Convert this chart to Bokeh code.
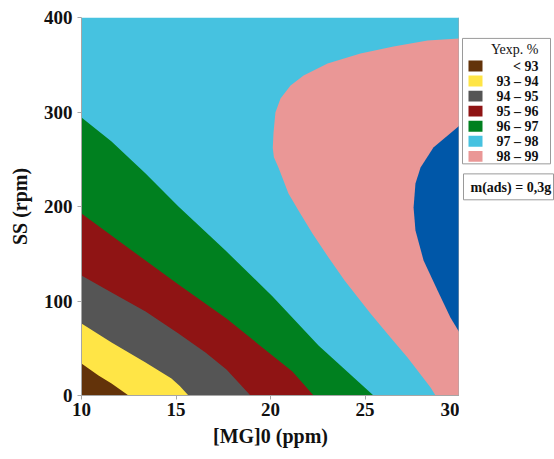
from bokeh.plotting import figure
from bokeh.layouts import row
from bokeh.models import Range1d, FixedTicker, Span
from bokeh.core.properties import value
from bokeh.embed import file_html
from bokeh.resources import INLINE

# axis limits and ticks
x_min, x_max = 10, 30
y_min, y_max = 0, 400
x_ticks = [10, 15, 20, 25, 30]
y_ticks = [0, 100, 200, 300, 400]

# class colours and legend labels (Yexp. %)
c_lt93 = "#63330A"
c_93_94 = "#FFE546"
c_94_95 = "#555555"
c_95_96 = "#8F1414"
c_96_97 = "#00801F"
c_97_98 = "#46C2E0"
c_98_99 = "#EA9796"
c_gt99 = "#0057A8"
legend_title = "Yexp. %"
legend_labels = ["< 93", "93 \u2013 94", "94 \u2013 95", "95 \u2013 96",
                 "96 \u2013 97", "97 \u2013 98", "98 \u2013 99"]
legend_colors = [c_lt93, c_93_94, c_94_95, c_95_96, c_96_97, c_97_98, c_98_99]
note_text = "m(ads) = 0,3g"

# contour boundaries ([MG]0 in ppm, SS in rpm)
b93_x = [10.0, 10.9, 11.59, 12.49]
b93_y = [33.9, 21.2, 12.7, 0.0]
b94_x = [10.0, 11.59, 13.39, 14.76, 15.2, 15.66]
b94_y = [76.2, 56.1, 34.9, 18.0, 10.0, 0.0]
b95_x = [10.0, 11.59, 13.39, 15.13, 16.56, 17.67, 18.94]
b95_y = [127.0, 109.0, 88.9, 65.6, 45.5, 27.5, 0.0]
b96_x = [10.0, 12.59, 15.13, 17.67, 19.37, 21.16, 22.28]
b96_y = [192.6, 154.5, 117.5, 81.5, 54.0, 25.4, 0.0]
b97_x = [10.0, 11.59, 13.39, 15.13, 17.62, 20.11, 22.54, 25.45]
b97_y = [294.2, 268.8, 235.0, 200.0, 153.4, 104.8, 52.9, 0.0]
b98_x = [30.0, 28.31, 26.51, 24.76, 23.02, 21.75, 21.06, 20.53, 20.26, 20.16, 20.12,
         20.18, 20.42, 20.95, 21.48, 22.22, 23.07, 23.92, 25.29, 26.35, 27.25, 28.47, 28.73]
b98_y = [377.8, 375.7, 369.3, 361.9, 351.3, 338.6, 328.0, 314.3, 299.5, 278.3, 262.0,
         252.0, 241.3, 213.8, 195.8, 171.4, 146.0, 121.7, 86.8, 61.4, 40.2, 8.5, 0.0]
b99_x = [30.0, 28.62, 27.94, 27.67, 27.57, 27.67, 28.1, 28.84, 29.52, 30.0]
b99_y = [285.7, 262.4, 241.3, 224.3, 198.9, 174.6, 142.9, 111.1, 82.5, 66.7]

FONT = "Liberation Serif"
AX = "#A6A6A6"
H = 452

p = figure(frame_width=378, frame_height=378,
           x_range=Range1d(x_min, x_max), y_range=Range1d(y_min, y_max),
           output_backend="svg", toolbar_location=None,
           min_border_left=81, min_border_right=0, min_border_top=17,
           min_border_bottom=H - 17 - 378,
           x_axis_label="[MG]0 (ppm)", y_axis_label="SS (rpm)")
p.grid.visible = False
p.outline_line_color = None
p.background_fill_color = "white"
p.border_fill_color = "white"

p.quad(left=[x_min], right=[x_max], bottom=[y_min], top=[y_max],
       fill_color=c_97_98, line_color=None)

def below(bx, by, color):
    return p.patch(bx + [x_min], by + [y_min], fill_color=color, line_color=None)

below(b97_x, b97_y, c_96_97)
below(b96_x, b96_y, c_95_96)
below(b95_x, b95_y, c_94_95)
below(b94_x, b94_y, c_93_94)
below(b93_x, b93_y, c_lt93)
p.patch(b98_x + [x_max], b98_y + [y_min], fill_color=c_98_99, line_color=None)
p.patch(b99_x, b99_y, fill_color=c_gt99, line_color=None)

for ax in (p.xaxis[0], p.yaxis[0]):
    ax.axis_line_color = AX
    ax.major_tick_line_color = AX
    ax.major_tick_out = 4
    ax.major_tick_in = 0
    ax.minor_tick_line_color = None
    ax.major_label_text_font = FONT
    ax.major_label_text_font_style = "bold"
    ax.major_label_text_font_size = "19px"
    ax.major_label_text_color = "#111111"
    ax.axis_label_text_font = FONT
    ax.axis_label_text_font_style = "bold"
    ax.axis_label_text_font_size = "20px"
    ax.axis_label_text_color = "#111111"
p.xaxis.ticker = FixedTicker(ticks=x_ticks)
p.yaxis.ticker = FixedTicker(ticks=y_ticks)
p.xaxis.major_label_standoff = 3
p.yaxis.major_label_standoff = 5
p.xaxis.axis_label_standoff = 6
p.yaxis.axis_label_standoff = 10
p.add_layout(Span(location=x_max, dimension="height", line_color=AX, line_width=2))

# legend panel (screen-like coordinates, y downward)
W2 = 95
f2 = figure(width=W2, height=H, x_range=Range1d(0, W2), y_range=Range1d(H, 0),
            output_backend="svg", toolbar_location=None, min_border=0)
f2.axis.visible = False
f2.grid.visible = False
f2.outline_line_color = None
f2.background_fill_color = "white"
f2.border_fill_color = "white"

row_y = [58 + 18 * i for i in range(len(legend_labels))]
f2.quad(left=[3], right=[91], top=[25], bottom=[175], fill_color="white",
        line_color="#9A9A9A", line_width=1)
f2.quad(left=[9] * len(row_y), right=[23] * len(row_y),
        top=[y - 6.5 for y in row_y], bottom=[y + 6.5 for y in row_y],
        fill_color=legend_colors, line_color=None)
f2.text(x=[79], y=[38], text=[legend_title], text_font=value(FONT),
        text_font_size="14px", text_align="right", text_baseline="middle",
        text_color="#111111")
f2.text(x=[79] * len(row_y), y=row_y, text=legend_labels, text_font=value(FONT),
        text_font_style="bold", text_font_size="14px", text_align="right",
        text_baseline="middle", text_color="#111111")
f2.quad(left=[4], right=[94], top=[187], bottom=[218], fill_color="white",
        line_color="#9A9A9A", line_width=1)
f2.text(x=[11], y=[203], text=[note_text], text_font=value(FONT),
        text_font_style="bold", text_font_size="14px", text_align="left",
        text_baseline="middle", text_color="#111111")

layout = row(p, f2, spacing=0)
open("out.html", "w").write(file_html(layout, INLINE))
